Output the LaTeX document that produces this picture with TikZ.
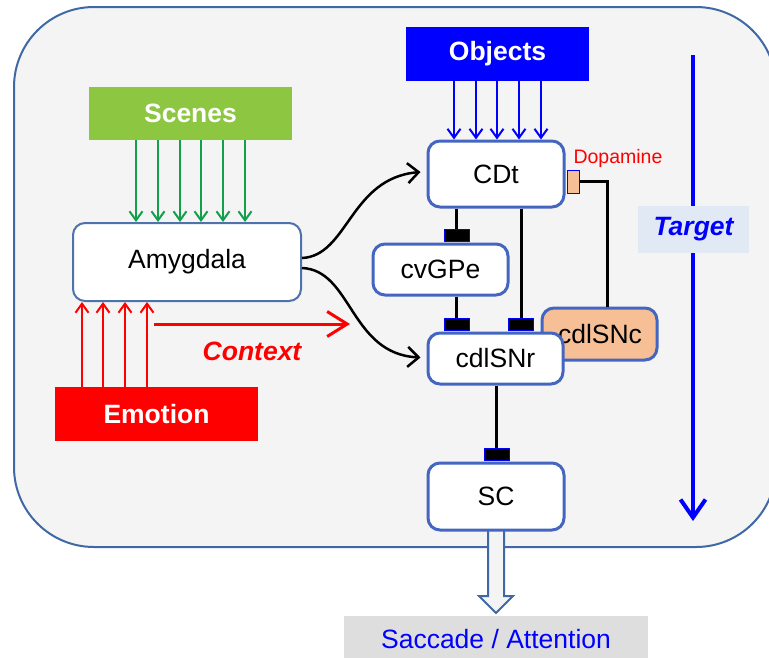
\documentclass[tikz,border=0pt]{standalone}
\usepackage{fontspec}
\setmainfont{Liberation Sans}
\usetikzlibrary{arrows.meta,calc}
\definecolor{bgfill}{HTML}{F4F4F4}
\definecolor{frame}{HTML}{3F68A6}
\definecolor{amyedge}{HTML}{4E72AA}
\definecolor{nodeblue}{HTML}{4566C0}
\definecolor{scgreen}{HTML}{8DC641}
\definecolor{argreen}{HTML}{12A04A}
\definecolor{peach}{HTML}{F7BF95}
\definecolor{tgtfill}{HTML}{E1E9F5}
\definecolor{sacfill}{HTML}{DEDEDE}
\definecolor{pureblue}{HTML}{0000FF}
\definecolor{purered}{HTML}{FF0000}
\tikzset{
  bigfont/.style={font=\fontsize{26.5}{30}\selectfont},
  region/.style={rectangle, rounded corners=12pt, draw=nodeblue, line width=3pt, fill=white, bigfont, inner sep=0pt},
  inputbox/.style={rectangle, inner sep=0pt, text=white, font=\fontsize{26.5}{30}\selectfont\bfseries},
  inhib/.style={rectangle, fill=black, draw=pureblue, line width=1pt, minimum width=25pt, minimum height=12pt, inner sep=0pt},
  inhline/.style={draw=black, line width=3pt},
  thinarrow/.style={line width=2pt, -{Straight Barb[length=9pt,width=13pt,line width=2pt]}},
  curvearrow/.style={draw=black, line width=2.5pt, -{Straight Barb[length=11pt,width=20pt,line width=2.5pt]}},
}
\begin{document}
\begin{tikzpicture}[x=1pt,y=-1pt]
\useasboundingbox (0,0) rectangle (769,657);
% main frame
\draw[frame, line width=2pt, fill=bgfill, rounded corners=80pt] (14,7) rectangle (776,547);

% Target arrow
\coordinate (tgtTop) at (693,55);
\coordinate (tgtEnd) at (693,521);
\draw[pureblue, line width=4pt, -{Straight Barb[length=18pt,width=25pt,line width=4pt]}] (tgtTop) -- (tgtEnd);
\node[rectangle, fill=tgtfill, minimum width=111pt, minimum height=47pt, inner sep=0pt, text=pureblue, font=\fontsize{26.5}{30}\selectfont\bfseries\itshape] (tgt) at (693.5,229.5) {Target};

% input boxes
\node[inputbox, fill=scgreen, minimum width=203pt, minimum height=53pt] (Scenes) at (190.5,113.5) {Scenes};
\node[inputbox, fill=pureblue, minimum width=183pt, minimum height=54pt] (Objects) at (497.5,54) {Objects};
\node[inputbox, fill=purered, minimum width=203pt, minimum height=54pt] (Emotion) at (156.5,414) {Emotion};

% output
\node[rectangle, fill=sacfill, minimum width=304pt, minimum height=46pt, inner sep=0pt, text=pureblue, bigfont] (sac) at (496,639) {Saccade / Attention};

% regions
\node[region, draw=amyedge, line width=2pt, minimum width=228pt, minimum height=78pt] (Amyg) at (187,262) {Amygdala};
\node[region, minimum width=136pt, minimum height=66pt] (CDt) at (496,174) {CDt};
\node[region, minimum width=135pt, minimum height=51pt] (cvGPe) at (440.5,269.5) {cvGPe};
\node[region, fill=peach, minimum width=115pt, minimum height=52pt, text depth=0pt] (SNc) at (599.5,334) {\hspace*{1pt}cdlSNc};

% hollow output arrow (behind SC)
\coordinate (SCbot) at (496,528);
\draw[frame, line width=2pt, fill=bgfill, line join=miter]
  ($(SCbot)+(-8,0)$) -- ++(0,68) -- ++(-9,0) -- ++(17,17) -- ++(17,-17) -- ++(-9,0) -- ++(0,-68);

\node[region, minimum width=135pt, minimum height=51pt] (SNr) at (495.5,358.5) {cdlSNr};
\node[region, minimum width=136pt, minimum height=67pt] (SC) at (496,496.5) {SC};

% dopamine receptor and label
\node[rectangle, fill=peach, draw=pureblue, line width=1pt, minimum width=12pt, minimum height=23pt, inner sep=0pt] (DA) at (573,181.5) {};
\node[text=purered, font=\fontsize{19.5}{22}\selectfont, inner sep=0pt] (DAlbl) at (618,158) {Dopamine};
\draw[inhline] (DA.east) -| ([xshift=7.5pt]SNc.north);

% inhibitory synapses
\node[inhib] (i1) at (456.5,235) {};
\node[inhib] (i2) at (456.5,324) {};
\node[inhib] (i3) at (521,324) {};
\node[inhib] (i4) at (496.5,454.5) {};
\draw[inhline] (i1 |- CDt.south) -- (i1.north);
\draw[inhline] (i2 |- cvGPe.south) -- (i2.north);
\draw[inhline] (i3 |- CDt.south) -- (i3.north);
\draw[inhline] (i4 |- SNr.south) -- (i4.north);

% input arrows
\foreach \x in {136,158,180,201,223,245}
  \draw[argreen, thinarrow] (\x,0 |- Scenes.south) -- (\x,0 |- Amyg.north);
\foreach \x in {454,476,497,519,541}
  \draw[pureblue, thinarrow] (\x,0 |- Objects.south) -- (\x,0 |- CDt.north);
\foreach \x in {82,103,125,147}
  \draw[purered, thinarrow] (\x,0 |- Emotion.north) -- (\x,0 |- Amyg.south);

% context
\coordinate (ctxA) at (154,324);
\coordinate (ctxB) at (350,324);
\draw[purered, line width=3pt, -{Straight Barb[length=20pt,width=25pt,line width=3pt]}] (ctxA) -- (ctxB);
\node[text=purered, font=\fontsize{26.5}{30}\selectfont\bfseries\itshape, inner sep=0pt] (ctx) at (252,351) {Context};

% amygdala projections
\draw[curvearrow] ($(Amyg.east)+(0,-4)$) .. controls (348,256) and (350,178) .. ($(CDt.west)+(-6,-2)$);
\draw[curvearrow] ($(Amyg.east)+(0,6)$) .. controls (352,270) and (350,354) .. ($(SNr.west)+(-6,-1)$);
\end{tikzpicture}
\end{document}
